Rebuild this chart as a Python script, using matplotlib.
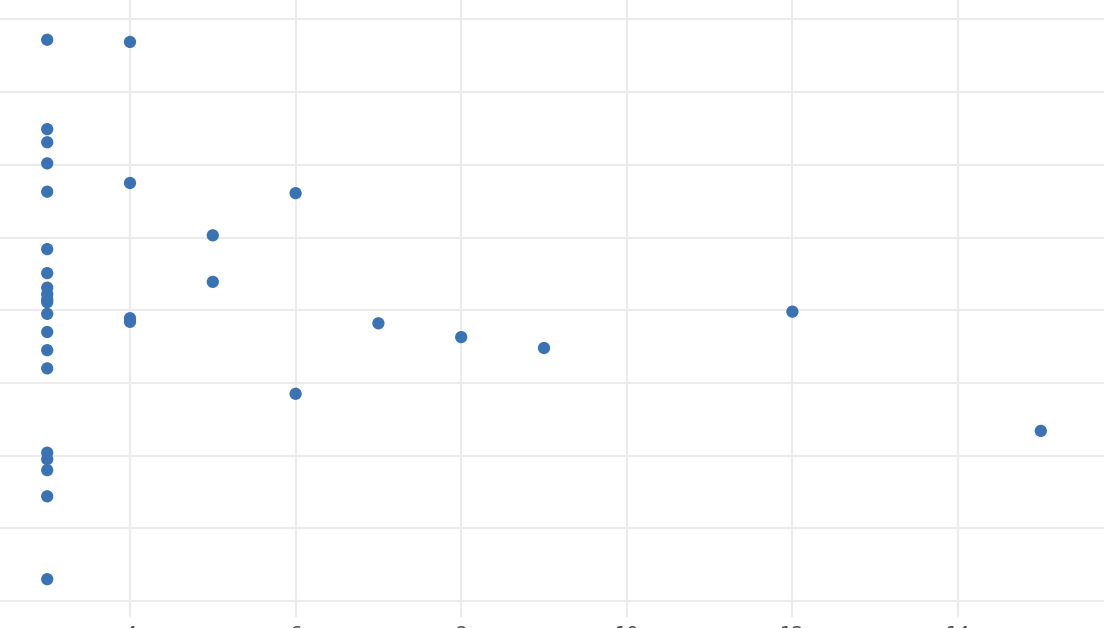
import numpy as np
import matplotlib
matplotlib.use('Agg')
import matplotlib.pyplot as plt

# data (x values and y values, y in grid units)
x_vals = [3, 3, 3, 3, 3, 3, 3, 3, 3, 3, 3, 3, 3, 3, 3, 3, 3, 3, 3, 3,
          4, 4, 4, 4,
          5, 5,
          6, 6,
          7, 8, 9, 12, 15]
y_vals = [7.72, 6.49, 6.31, 6.02, 5.63, 4.84, 4.51, 4.31, 4.22, 4.15, 4.11,
          3.95, 3.70, 3.45, 3.20, 2.04, 1.95, 1.80, 1.44, 0.30,
          7.69, 5.75, 3.89, 3.84,
          5.03, 4.39,
          5.61, 2.85,
          3.82, 3.63, 3.48, 3.98, 2.34]
x_ticks = [4, 6, 8, 10, 12, 14]
y_ticks = [0, 1, 2, 3, 4, 5, 6, 7, 8]

fig = plt.figure(figsize=(11.08, 6.28), dpi=100)
# axes run past the figure edges: the reference is a crop of a bigger chart
ax = fig.add_axes([0, 11 / 628, 1104 / 1108, 617 / 628])

ax.scatter(x_vals, y_vals, s=78, color='#3B73B2', edgecolors='none', zorder=3)

ax.set_xlim(4 - 130 / 82.8, 4 + (1104 - 130) / 82.8)
ax.set_ylim((601 - 617) / 72.7, 601 / 72.7)
ax.set_xticks(x_ticks)
ax.set_yticks(y_ticks)
ax.set_yticklabels([])
ax.grid(True, color='#EBEBEB', linewidth=1.5)
ax.set_axisbelow(True)
for s in ax.spines.values():
    s.set_visible(False)
ax.tick_params(length=0, labelsize=14, labelcolor='#4D4D4D', pad=6)

fig.savefig('out.png', dpi=100)
